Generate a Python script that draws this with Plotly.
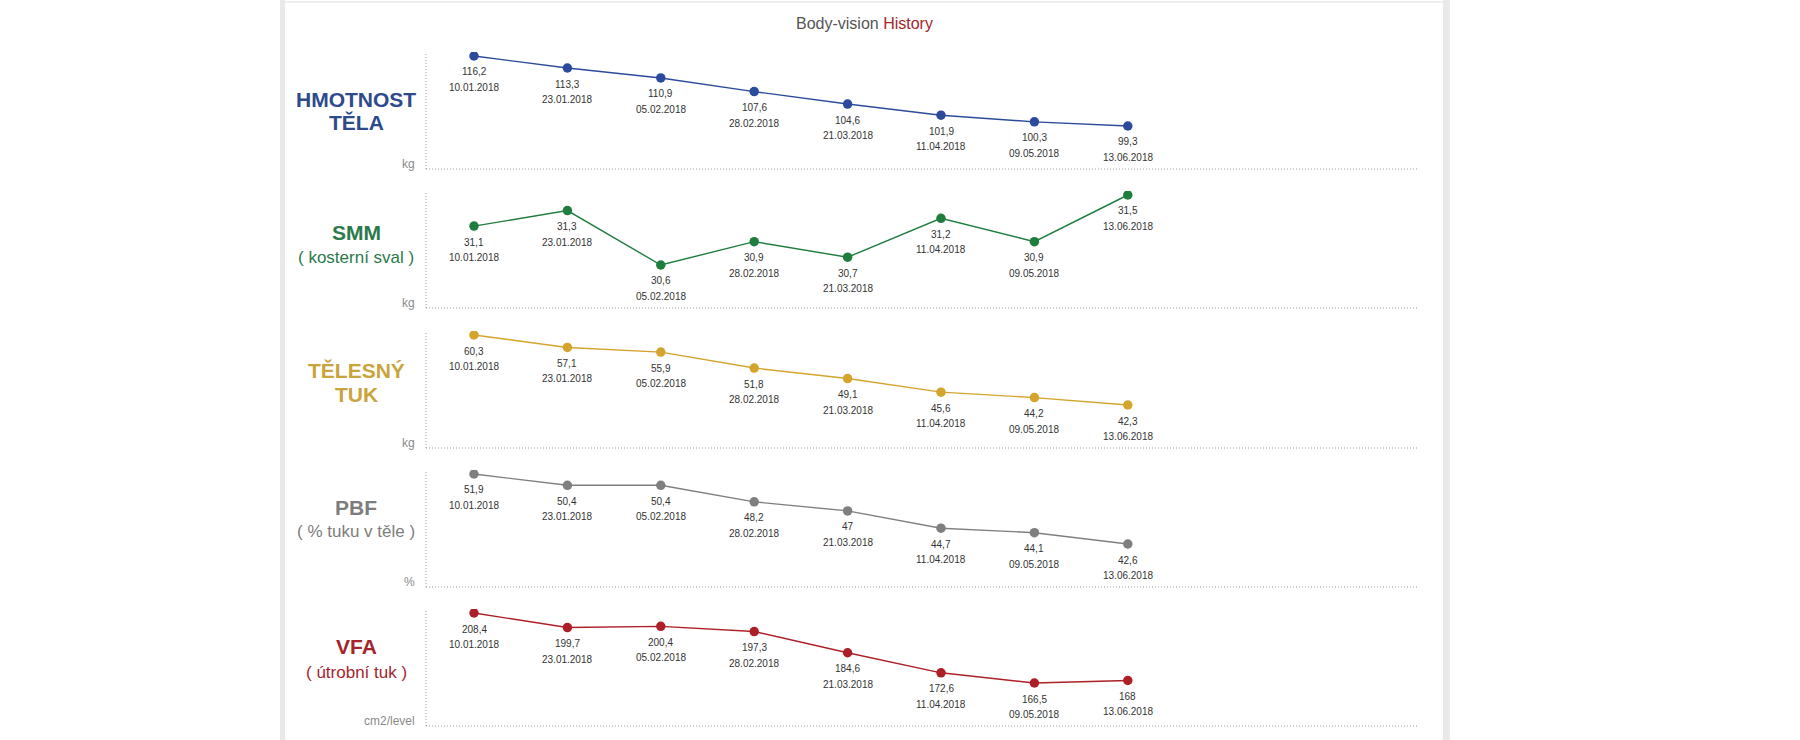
import plotly.graph_objects as go

# ---------------- data ----------------
dates = ["10.01.2018", "23.01.2018", "05.02.2018", "28.02.2018",
         "21.03.2018", "11.04.2018", "09.05.2018", "13.06.2018"]
hmotnost = [116.2, 113.3, 110.9, 107.6, 104.6, 101.9, 100.3, 99.3]
smm = [31.1, 31.3, 30.6, 30.9, 30.7, 31.2, 30.9, 31.5]
telesny_tuk = [60.3, 57.1, 55.9, 51.8, 49.1, 45.6, 44.2, 42.3]
pbf = [51.9, 50.4, 50.4, 48.2, 47, 44.7, 44.1, 42.6]
vfa = [208.4, 199.7, 200.4, 197.3, 184.6, 172.6, 166.5, 168]

titles = [["HMOTNOST", "TĚLA"], ["SMM", "( kosterní sval )"], ["TĚLESNÝ", "TUK"],
          ["PBF", "( % tuku v těle )"], ["VFA", "( útrobní tuk )"]]
title_bold2 = [True, False, True, False, False]
units = ["kg", "kg", "kg", "%", "cm2/level"]
series = [hmotnost, smm, telesny_tuk, pbf, vfa]
colors = ["#2b4a9b", "#1f7d3e", "#d4a42c", "#7f7f7f", "#ad1f27"]
title_colors = ["#2d4a8c", "#2b7a4b", "#c9a43c", "#7d7d7d", "#a3262d"]

# ---------------- layout geometry (pixels) ----------------
W, H = 1800, 740
X_LEFT, X_RIGHT = 426, 1418
X_FIRST, X_STEP = 474, 93.4
tops = [52, 191, 331, 470, 609]
bottoms = [169, 308, 448, 587, 726]
title_y = [(100, 123), (232, 257), (370, 394), (507, 531), (646, 672)]
TITLE_X = 356

def px(x):
    return x / W

def py(y):
    return 1 - y / H

LABEL_FONT = "Liberation Sans, Arial, sans-serif"
BASE_FONT = "Liberation Sans, Arial, sans-serif"

fig = go.Figure()
annotations = []
shapes = []

x_idx = list(range(len(dates)))
xr = [-(X_FIRST - X_LEFT) / X_STEP,
      (len(dates) - 1) + (X_RIGHT - (X_FIRST + X_STEP * (len(dates) - 1))) / X_STEP]

for i, vals in enumerate(series):
    n = i + 1
    xa = "x" if n == 1 else f"x{n}"
    ya = "y" if n == 1 else f"y{n}"
    vmax, vmin = max(vals), min(vals)
    r = vmax - vmin
    h = bottoms[i] - tops[i]
    ppu = 70.0 / r
    y_hi = vmax + 4.0 / ppu
    y_lo = vmin - (h - 74.0) / ppu

    fig.add_trace(go.Scatter(
        x=x_idx, y=vals, mode="lines+markers",
        line=dict(color=colors[i], width=1.4),
        marker=dict(color=colors[i], size=9.5),
        xaxis=xa, yaxis=ya, showlegend=False, hoverinfo="skip"))

    dom_y = [py(bottoms[i]), py(tops[i])]
    fig.layout[("xaxis" if n == 1 else f"xaxis{n}")] = dict(
        domain=[px(X_LEFT), px(X_RIGHT)], range=xr, visible=False,
        anchor=ya, fixedrange=True)
    fig.layout[("yaxis" if n == 1 else f"yaxis{n}")] = dict(
        domain=dom_y, range=[y_lo, y_hi], visible=False,
        anchor=xa, fixedrange=True)

    for xi, v, d in zip(x_idx, vals, dates):
        txt = f"{v:g}".replace(".", ",")
        annotations.append(dict(x=xi, y=v, xref=xa, yref=ya, text=txt,
                                showarrow=False, yshift=-16, yanchor="middle",
                                font=dict(family=LABEL_FONT, size=10, color="#333333")))
        annotations.append(dict(x=xi, y=v, xref=xa, yref=ya, text=d,
                                showarrow=False, yshift=-31.5, yanchor="middle",
                                font=dict(family=LABEL_FONT, size=10, color="#333333")))

    # dotted frame lines
    shapes.append(dict(type="line", xref="paper", yref="paper",
                       x0=px(X_LEFT), x1=px(X_LEFT), y0=py(bottoms[i]), y1=py(tops[i]),
                       line=dict(color="#9a9a9a", width=1, dash="1px,2px")))
    shapes.append(dict(type="line", xref="paper", yref="paper",
                       x0=px(X_LEFT), x1=px(X_RIGHT), y0=py(bottoms[i]), y1=py(bottoms[i]),
                       line=dict(color="#9a9a9a", width=1, dash="1px,2px")))

    # panel titles
    t1, t2 = titles[i]
    annotations.append(dict(x=px(TITLE_X), y=py(title_y[i][0]), xref="paper", yref="paper",
                            text=f"<b>{t1}</b>", showarrow=False, xanchor="center", yanchor="middle",
                            font=dict(family=BASE_FONT, size=21, color=title_colors[i])))
    annotations.append(dict(x=px(TITLE_X), y=py(title_y[i][1]), xref="paper", yref="paper",
                            text=(f"<b>{t2}</b>" if title_bold2[i] else t2), showarrow=False,
                            xanchor="center", yanchor="middle",
                            font=dict(family=BASE_FONT, size=(21 if title_bold2[i] else 17),
                                      color=title_colors[i])))
    # unit label
    annotations.append(dict(x=px(417), y=py(bottoms[i] - 5), xref="paper", yref="paper",
                            text=units[i], showarrow=False, xanchor="right", yanchor="middle",
                            font=dict(family=BASE_FONT, size=12, color="#8a8a8a")))

# main title
annotations.append(dict(x=px(864), y=py(23), xref="paper", yref="paper",
                        text="Body-vision <span style='color:#a3262b'>History</span>",
                        showarrow=False, xanchor="center", yanchor="middle",
                        font=dict(family=BASE_FONT, size=16, color="#555555")))

# page frame
shapes.append(dict(type="rect", xref="paper", yref="paper", x0=px(280), x1=px(285),
                   y0=0, y1=1, line=dict(width=0), fillcolor="#e9e9e9", layer="below"))
shapes.append(dict(type="rect", xref="paper", yref="paper", x0=px(1443), x1=px(1450),
                   y0=0, y1=1, line=dict(width=0), fillcolor="#e9e9e9", layer="below"))
shapes.append(dict(type="line", xref="paper", yref="paper", x0=px(285), x1=px(1443),
                   y0=py(2), y1=py(2), line=dict(color="#eeeeee", width=2)))

fig.update_layout(width=W, height=H, margin=dict(l=0, r=0, t=0, b=0),
                  paper_bgcolor="white", plot_bgcolor="white",
                  annotations=annotations, shapes=shapes, showlegend=False)

fig.write_html("out.html", config={"displayModeBar": False},
               post_script="document.body.style.margin='0';document.body.style.overflow='hidden';")
